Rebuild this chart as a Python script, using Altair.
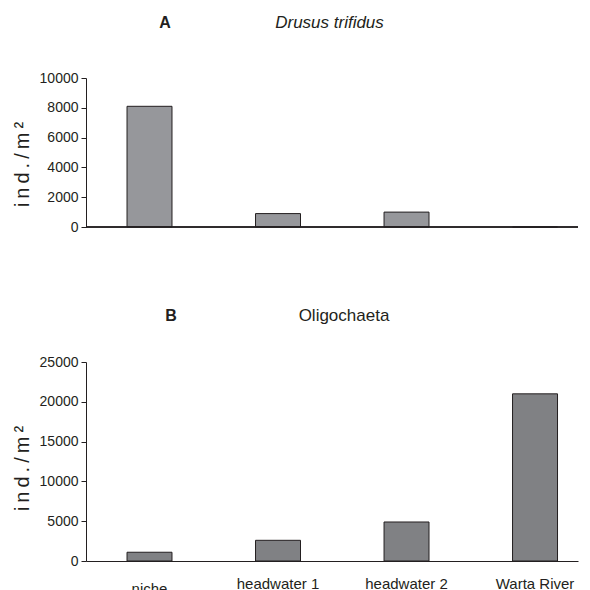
import altair as alt
import pandas as pd

sites = ["niche", "headwater 1", "headwater 2", "Warta River"]
drusus = [8100, 900, 1000, 0]
oligo = [1100, 2600, 4900, 21000]

df = pd.DataFrame({"site": sites, "drusus": drusus, "oligo": oligo})

FONT = "Liberation Sans"
INK = "#231f20"
W = 492
H = 553
YTITLE = "i\u2009n\u2009d\u2009.\u2009/\u2009m\u2009²"

xenc = alt.X(
    "site:N",
    sort=sites,
    scale=alt.Scale(paddingInner=0.65, paddingOuter=0.2393, align=0.667),
    axis=alt.Axis(
        title=None, ticks=False, domainColor=INK, domainWidth=1,
        labelFont=FONT, labelFontSize=15, labelColor=INK,
        labelPadding={"condition": {"test": "datum.value === 'niche'", "value": 20}, "value": 15},
        labelAngle=0,
    ),
)

def yaxis(vals, ty):
    return alt.Axis(
        orient="left",
        values=vals, grid=False, title=YTITLE, titleFont=FONT, titleFontSize=20,
        titleFontWeight="normal", titleColor=INK, titleX=-54, titleY=ty,
        labelFont=FONT, labelFontSize=14, labelColor=INK, labelPadding=3,
        tickColor=INK, tickSize=5, domainColor=INK, format="d",
    )

base = alt.Chart(df)

barsA = base.mark_bar(color="#96979b", stroke=INK, strokeWidth=1).encode(
    x=xenc,
    y=alt.Y("drusus:Q", scale=alt.Scale(domain=[0, 10000], range=[219, 70], nice=False),
            axis=yaxis([0, 2000, 4000, 6000, 8000, 10000], 156)),
)
ruleA = base.mark_rule(color=INK, strokeWidth=1).encode(
    x=alt.value(0), x2=alt.value(W), y=alt.datum(0)
)
layerA = alt.layer(barsA, ruleA)

barsB = base.mark_bar(color="#808184", stroke=INK, strokeWidth=1).encode(
    x=xenc,
    y=alt.Y("oligo:Q", scale=alt.Scale(domain=[0, 25000], range=[553, 354], nice=False),
            axis=yaxis([0, 5000, 10000, 15000, 20000, 25000], 460)),
)

one = pd.DataFrame({"t": ["x"]})
bold = alt.Chart(one).mark_text(font=FONT, fontSize=16, fontWeight="bold", color=INK)
tA = bold.encode(text=alt.value("A"), x=alt.value(79), y=alt.value(14.5))
tB = bold.encode(text=alt.value("B"), x=alt.value(85), y=alt.value(308))
tDrus = alt.Chart(one).mark_text(
    font=FONT, fontSize=17, fontStyle="italic", color=INK
).encode(text=alt.value("Drusus trifidus"), x=alt.value(243.5), y=alt.value(14.5))
tOli = alt.Chart(one).mark_text(
    font=FONT, fontSize=17, color=INK
).encode(text=alt.value("Oligochaeta"), x=alt.value(258), y=alt.value(308))

chart = alt.layer(layerA, barsB, tA, tB, tDrus, tOli).resolve_scale(
    y="independent"
).properties(
    width=W, height=H, padding={"left": 4, "top": 0, "right": 0, "bottom": 0}
).configure_view(stroke=None)

chart.save("out.html", embed_options={"renderer": "svg", "actions": False})
